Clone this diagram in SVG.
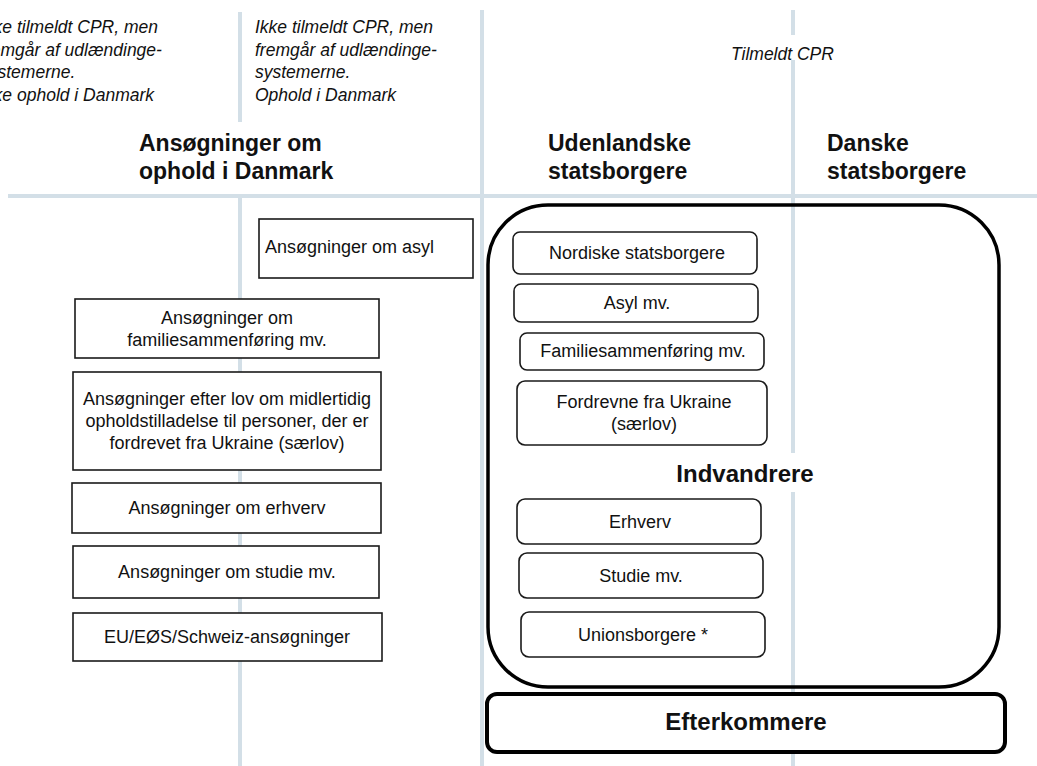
<svg xmlns="http://www.w3.org/2000/svg" width="1037" height="766" viewBox="0 0 1037 766">
<style>
.grid{stroke:#d3dfe7;stroke-width:4;fill:none}
.box{fill:#fff;stroke:#1a1a1a;stroke-width:1.6}
.rbox{fill:#fff;stroke:#1a1a1a;stroke-width:1.6}
.t{font-family:"Liberation Sans",Arial,sans-serif;font-size:18px;fill:#111}
.c{text-anchor:middle}
.h{font-family:"Liberation Sans",Arial,sans-serif;font-size:23px;font-weight:bold;fill:#111}
.hb{font-family:"Liberation Sans",Arial,sans-serif;font-size:24px;font-weight:bold;fill:#111}
.i{font-family:"Liberation Sans",Arial,sans-serif;font-size:17.5px;font-style:italic;fill:#111}
</style>
<rect width="1037" height="766" fill="#fff"/>
<g id="grid" class="grid">
<line x1="240" y1="12" x2="240" y2="122"/>
<line x1="240" y1="196" x2="240" y2="766"/>
<line x1="482" y1="10" x2="482" y2="766"/>
<line x1="793" y1="10" x2="793" y2="35"/>
<line x1="793" y1="60" x2="793" y2="453"/>
<line x1="793" y1="492" x2="793" y2="766"/>
<line x1="8" y1="196" x2="1037" y2="196"/>
</g>
<g id="labels">
<text class="i" x="-20" y="33">Ikke tilmeldt CPR, men</text>
<text class="i" x="-20" y="55.5">fremgår af udlændinge-</text>
<text class="i" x="-20" y="78">systemerne.</text>
<text class="i" x="-20" y="100.5">Ikke ophold i Danmark</text>
<text class="i" x="255" y="33">Ikke tilmeldt CPR, men</text>
<text class="i" x="255" y="55.5">fremgår af udlændinge-</text>
<text class="i" x="255" y="78">systemerne.</text>
<text class="i" x="255" y="100.5">Ophold i Danmark</text>
<text class="i" x="731" y="60">Tilmeldt CPR</text>
<text class="h" x="139" y="151">Ansøgninger om</text>
<text class="h" x="139" y="179">ophold i Danmark</text>
<text class="h" x="548" y="151">Udenlandske</text>
<text class="h" x="548" y="179">statsborgere</text>
<text class="h" x="827" y="151">Danske</text>
<text class="h" x="827" y="179">statsborgere</text>
</g>
<g id="asyl-ans"><rect class="box" x="259" y="219" width="214" height="59"/><text class="t" x="265" y="253">Ansøgninger om asyl</text></g>
<g id="familie-ans"><rect class="box" x="75" y="299" width="304" height="59"/><text class="t c" x="227" y="324">Ansøgninger om</text><text class="t c" x="227" y="346">familiesammenføring mv.</text></g>
<g id="ukraine-ans"><rect class="box" x="73" y="372" width="308" height="98"/><text class="t c" x="227" y="405">Ansøgninger efter lov om midlertidig</text><text class="t c" x="227" y="427">opholdstilladelse til personer, der er</text><text class="t c" x="227" y="449">fordrevet fra Ukraine (særlov)</text></g>
<g id="erhverv-ans"><rect class="box" x="72" y="483" width="309" height="50"/><text class="t c" x="227" y="514">Ansøgninger om erhverv</text></g>
<g id="studie-ans"><rect class="box" x="73" y="546" width="306" height="52"/><text class="t c" x="227" y="578">Ansøgninger om studie mv.</text></g>
<g id="eu-ans"><rect class="box" x="73" y="613" width="309" height="48"/><text class="t c" x="227" y="643">EU/EØS/Schweiz-ansøgninger</text></g>
<g id="indvandrere">
<rect x="488" y="205" width="511" height="482" rx="60" ry="60" fill="none" stroke="#000" stroke-width="3.5"/>
<text class="hb c" x="745" y="482">Indvandrere</text>
</g>
<g id="nordiske"><rect class="rbox" x="513" y="232" width="244" height="42" rx="7"/><text class="t c" x="637" y="259">Nordiske statsborgere</text></g>
<g id="asyl"><rect class="rbox" x="514" y="284" width="244" height="38" rx="7"/><text class="t c" x="637" y="309">Asyl mv.</text></g>
<g id="familie"><rect class="rbox" x="520" y="333" width="244" height="37" rx="7"/><text class="t c" x="643" y="357">Familiesammenføring mv.</text></g>
<g id="ukraine"><rect class="rbox" x="517" y="381" width="250" height="64" rx="8"/><text class="t c" x="644" y="408">Fordrevne fra Ukraine</text><text class="t c" x="644" y="430">(særlov)</text></g>
<g id="erhverv"><rect class="rbox" x="517" y="499" width="244" height="45" rx="8"/><text class="t c" x="640" y="528">Erhverv</text></g>
<g id="studie"><rect class="rbox" x="519" y="553" width="244" height="45" rx="8"/><text class="t c" x="641" y="582">Studie mv.</text></g>
<g id="union"><rect class="rbox" x="521" y="612" width="244" height="45" rx="8"/><text class="t c" x="643" y="641">Unionsborgere *</text></g>
<g id="efterkommere"><rect x="487" y="694" width="518" height="58" rx="10" fill="#fff" stroke="#000" stroke-width="4"/><text class="hb c" x="746" y="730">Efterkommere</text></g>
</svg>
